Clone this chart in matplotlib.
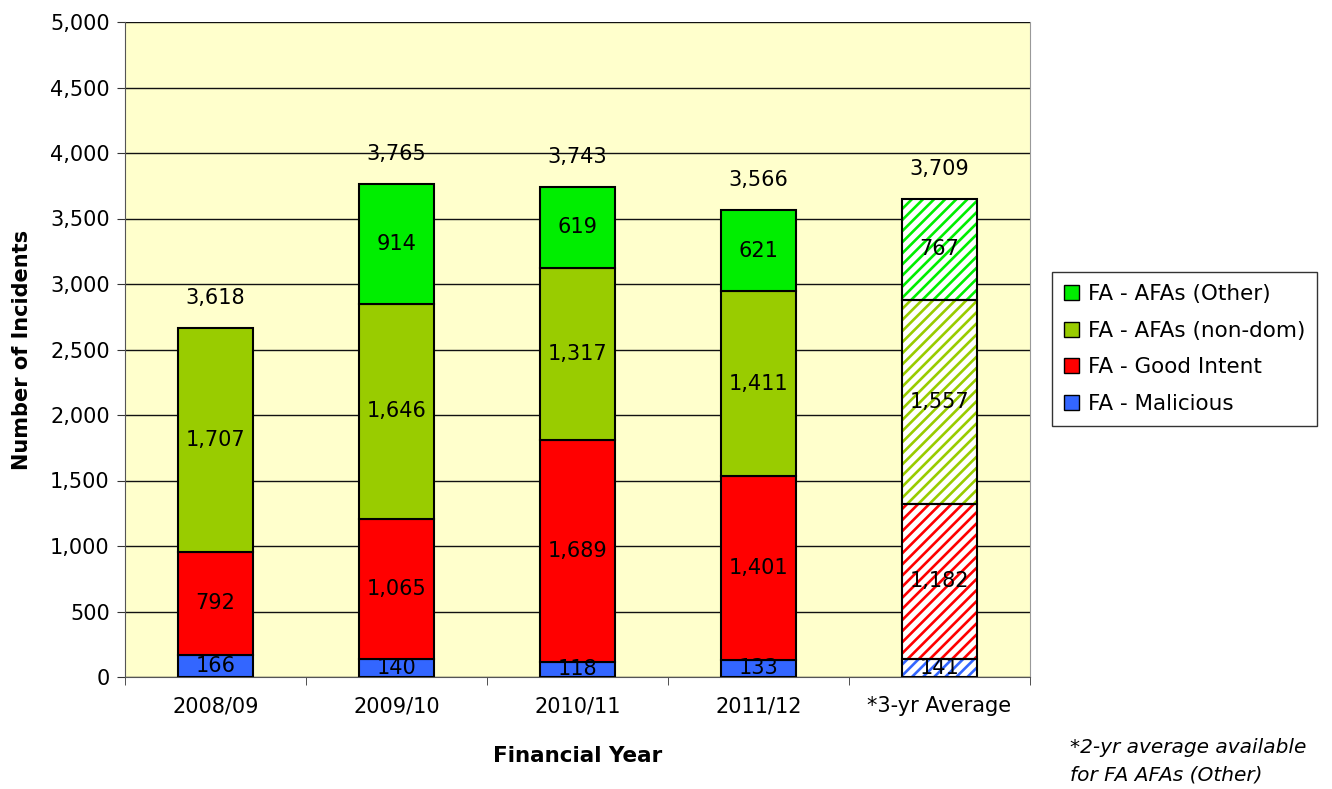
import numpy as np
import matplotlib
matplotlib.use('Agg')
import matplotlib.pyplot as plt
from matplotlib.ticker import FuncFormatter, FixedLocator, NullFormatter

plt.rcParams['font.family'] = ['DejaVu Sans']
plt.rcParams['hatch.linewidth'] = 1.9

years = ['2008/09', '2009/10', '2010/11', '2011/12', '*3-yr Average']
malicious = [166, 140, 118, 133, 141]
good_intent = [792, 1065, 1689, 1401, 1182]
afa_nondom = [1707, 1646, 1317, 1411, 1557]
afa_other = [0, 914, 619, 621, 767]
totals = [3618, 3765, 3743, 3566, 3709]

series = [
    ('FA - Malicious', malicious, '#3366FF'),
    ('FA - Good Intent', good_intent, '#FF0000'),
    ('FA - AFAs (non-dom)', afa_nondom, '#99CC00'),
    ('FA - AFAs (Other)', afa_other, '#00EE00'),
]

fig = plt.figure(figsize=(13.32, 7.89), dpi=100)
ax = fig.add_axes([125/1332, 1-677/789, 905/1332, 655/789])
ax.set_facecolor('#FFFFCC')

x = np.arange(len(years))
width = 0.41
bottom = np.zeros(len(years))
handles = []
for name, vals, col in series:
    vals = np.array(vals, dtype=float)
    for i in range(len(years)):
        if vals[i] == 0:
            continue
        if i == len(years) - 1:
            # average bar is hatched
            ax.bar(x[i], vals[i], width, bottom=bottom[i], facecolor='white',
                   edgecolor=col, hatch='///', linewidth=0, zorder=3)
            ax.bar(x[i], vals[i], width, bottom=bottom[i], fill=False,
                   edgecolor='black', linewidth=1.5, zorder=4)
        else:
            ax.bar(x[i], vals[i], width, bottom=bottom[i], color=col,
                   edgecolor='black', linewidth=1.5, zorder=3)
        ax.text(x[i], bottom[i] + vals[i] / 2, f'{int(vals[i]):,}',
                ha='center', va='center', fontsize=15, zorder=5)
    handles.append(plt.Rectangle((0, 0), 1, 1, facecolor=col, edgecolor='black', linewidth=1))
    bottom += vals

for i in range(len(years)):
    ax.text(x[i], bottom[i] + 230, f'{totals[i]:,}', ha='center', va='center', fontsize=15)

ax.set_xlim(-0.5, len(years) - 0.5)
ax.set_ylim(0, 5000)
ax.set_yticks(np.arange(0, 5001, 500))
ax.yaxis.set_major_formatter(FuncFormatter(lambda v, p: f'{int(v):,}'))
ax.set_xticks(x)
ax.set_xticklabels(years)
ax.xaxis.set_minor_locator(FixedLocator(np.arange(-0.5, len(years), 1.0)))
ax.xaxis.set_minor_formatter(NullFormatter())
ax.tick_params(axis='both', labelsize=15)
ax.tick_params(axis='x', which='major', length=0, pad=14)
ax.tick_params(axis='x', which='minor', length=6, color='#333333')
ax.tick_params(axis='y', length=6, color='#333333', pad=5)
ax.grid(axis='y', color='#111111', linewidth=1, zorder=1)
ax.set_axisbelow(True)
ax.spines['top'].set_visible(False)
ax.spines['right'].set_color('#999999')
ax.spines['left'].set_color('#555555')
ax.spines['bottom'].set_color('#555555')

ax.set_ylabel('Number of Incidents', fontsize=15, fontweight='bold', labelpad=13)
ax.set_xlabel('Financial Year', fontsize=15.5, fontweight='bold', labelpad=21)

labels = [s[0] for s in series]
leg = fig.legend(handles[::-1], labels[::-1], loc='upper left',
                 bbox_to_anchor=(1052/1332, 1-272/789), fontsize=15.5,
                 frameon=True, fancybox=False, edgecolor='black',
                 handlelength=0.7, handleheight=0.7, handletextpad=0.4,
                 labelspacing=0.78, borderpad=0.55, borderaxespad=0)
leg.get_frame().set_linewidth(1)

fig.text(1070/1332, 1-761/789, '*2-yr average available\nfor FA AFAs (Other)',
         fontsize=14.5, style='italic', ha='left', va='center', linespacing=1.55)

fig.savefig('out.png', dpi=100)
